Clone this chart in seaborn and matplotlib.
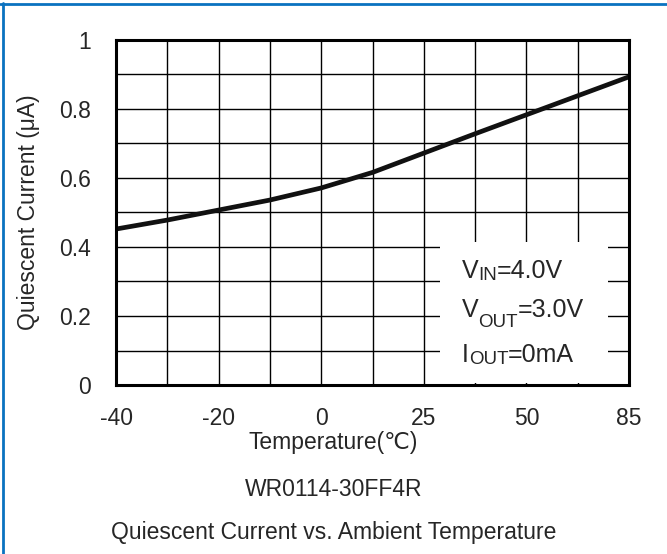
import numpy as np
import pandas as pd
import matplotlib
matplotlib.use("Agg")
import matplotlib.pyplot as plt
from matplotlib.patches import Rectangle
from matplotlib.lines import Line2D
from matplotlib.ticker import MultipleLocator
import seaborn as sns

# Data: the x axis is evenly spaced, one cell per grid column
tick_pos = [0, 2, 4, 6, 8, 10]
tick_labels = ["-40", "-20", "0", "25", "50", "85"]
grid_pos = [0, 1, 2, 3, 4, 5, 6, 7, 8, 9, 10]
iq_ua = [0.452, 0.478, 0.507, 0.536, 0.571, 0.616, 0.672, 0.728, 0.783, 0.838, 0.893]

df = pd.DataFrame({"pos": grid_pos, "iq": iq_ua})

sns.set_style("white")
plt.rcParams["font.family"] = ["Liberation Sans", "DejaVu Sans"]

FS = 16.5
FS_BOX = 18
FS_SUB = 13.5

fig = plt.figure(figsize=(6.67, 5.54), dpi=100)
ax = fig.add_axes([0.174, 0.305, 0.769, 0.623])

# grid drawn by hand so the condition box can hide it while ticks stay on top
for gx in grid_pos:
    ax.axvline(gx, color="black", linewidth=1.0, zorder=1)
for gy in np.arange(0, 1.01, 0.1):
    ax.axhline(gy, color="black", linewidth=1.0, zorder=1)

sns.lineplot(data=df, x="pos", y="iq", ax=ax, color="#111111", linewidth=3.4, zorder=5)

ax.set_xlim(0, 10)
ax.set_ylim(0, 1)
ax.set_xticks(tick_pos)
ax.set_xticklabels(tick_labels)
ax.xaxis.set_minor_locator(MultipleLocator(1))
ax.set_yticks(np.arange(0, 1.01, 0.2))
ax.set_yticklabels(["0", "0.2", "0.4", "0.6", "0.8", "1"])
ax.yaxis.set_minor_locator(MultipleLocator(0.1))
ax.set_axisbelow(False)
ax.tick_params(axis="both", which="both", direction="in", length=6, width=1,
               color="black", labelsize=FS)
ax.tick_params(axis="y", which="both", pad=18)
ax.tick_params(axis="x", which="both", pad=16)
for s in ax.spines.values():
    s.set_linewidth(2.2)
    s.set_color("black")
    s.set_zorder(10)

ax.set_xlabel("")
ax.set_ylabel("Quiescent Current (μA)", fontsize=FS, labelpad=14)

# condition box
ax.add_patch(Rectangle((6.32, 0.005), 3.27, 0.41, facecolor="white",
                       edgecolor="none", zorder=2))


def rich(x, y, parts):
    # parts: list of (text, size, vertical offset in points)
    prev = None
    for txt, size, dy in parts:
        if prev is None:
            prev = ax.text(x, y, txt, fontsize=size, va="baseline", zorder=6)
        else:
            prev = ax.annotate(txt, xy=(1, 0), xycoords=prev, xytext=(0, dy),
                               textcoords="offset points", fontsize=size,
                               va="bottom", ha="left", zorder=6)


rich(6.74, 0.31, [("V", FS_BOX, 0), ("IN", FS_SUB, -1), ("=4.0V", FS_BOX, 1)])
rich(6.74, 0.198, [("V", FS_BOX, 0), ("OUT", FS_SUB, -7), ("=3.0V", FS_BOX, 7)])
rich(6.74, 0.068, [("I", FS_BOX, 0), ("OUT", FS_SUB, -1), ("=0mA", FS_BOX, 1)])

fig.text(0.5, 1 - 442 / 554, "Temperature(℃)", ha="center", va="center", fontsize=FS)
fig.text(0.5, 1 - 490 / 554, "WR0114-30FF4R", ha="center", va="center", fontsize=FS)
fig.text(0.5, 1 - 532 / 554, "Quiescent Current vs. Ambient Temperature",
         ha="center", va="center", fontsize=FS)

# blue frame, only top and left edges are visible in the source
blue = "#0a72c0"
fig.add_artist(Line2D([0, 1], [1 - 4 / 554, 1 - 4 / 554], transform=fig.transFigure,
                      color=blue, linewidth=2))
fig.add_artist(Line2D([2.5 / 667, 2.5 / 667], [0, 1 - 3 / 554], transform=fig.transFigure,
                      color=blue, linewidth=2))

fig.savefig("out.png", dpi=100)
